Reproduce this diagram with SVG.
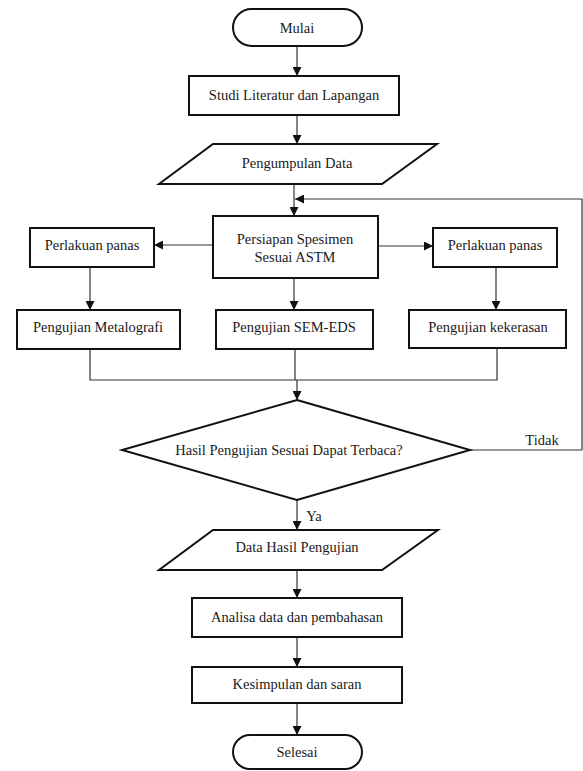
<svg xmlns="http://www.w3.org/2000/svg" width="583" height="771" viewBox="0 0 583 771">
<defs>
<marker id="ah" viewBox="0 0 10 10" refX="10" refY="5" markerWidth="9" markerHeight="9" markerUnits="userSpaceOnUse" orient="auto">
<path d="M0,0 L10,5 L0,10 z" fill="#111"/>
</marker>
</defs>
<style>
.n{fill:#fff;stroke:#111;stroke-width:2}
.t{font-family:'Liberation Serif','DejaVu Serif',serif;font-size:14.5px;fill:#1a1a1a;text-anchor:middle}
.c{fill:none;stroke:#333;stroke-width:1.2}
.a{marker-end:url(#ah)}
</style>
<rect width="583" height="771" fill="#fff"/>
<g id="connectors">
<line class="c a" x1="297" y1="46" x2="297" y2="76"/>
<line class="c a" x1="297" y1="115" x2="297" y2="144"/>
<line class="c a" x1="294" y1="184" x2="294" y2="216"/>
<polyline class="c a" points="582,450 582,199 295,199"/>
<line class="c a" x1="213" y1="245" x2="154" y2="245"/>
<line class="c a" x1="378" y1="246" x2="433" y2="246"/>
<line class="c a" x1="90" y1="267" x2="90" y2="310"/>
<line class="c a" x1="294" y1="278" x2="294" y2="310"/>
<line class="c a" x1="496" y1="267" x2="496" y2="310"/>
<polyline class="c" points="90,349 90,380 497,380 497,348"/>
<line class="c" x1="295" y1="349" x2="295" y2="380"/>
<line class="c a" x1="297" y1="380" x2="297" y2="400"/>
<line class="c" x1="470" y1="450" x2="582" y2="450"/>
<line class="c a" x1="297" y1="500" x2="297" y2="530"/>
<line class="c a" x1="297" y1="570" x2="297" y2="598"/>
<line class="c a" x1="297" y1="637" x2="297" y2="667"/>
<line class="c a" x1="297" y1="703" x2="297" y2="735"/>
<text class="t" x="542" y="445">Tidak</text>
<text class="t" x="314" y="521">Ya</text>
</g>
<g id="mulai"><rect class="n" x="233" y="9" width="129" height="37" rx="18.5"/><text class="t" x="297" y="33">Mulai</text></g>
<g id="studi"><rect class="n" x="189" y="76" width="210" height="39"/><text class="t" x="294" y="100">Studi Literatur dan Lapangan</text></g>
<g id="pengumpulan"><polygon class="n" points="213,144 437,144 382,184 159,184"/><text class="t" x="297" y="168">Pengumpulan Data</text></g>
<g id="persiapan"><rect class="n" x="213" y="216" width="165" height="62"/><text class="t" x="295" y="244">Persiapan Spesimen</text><text class="t" x="295" y="262">Sesuai ASTM</text></g>
<g id="panas-kiri"><rect class="n" x="30" y="228" width="124" height="39"/><text class="t" x="92" y="250">Perlakuan panas</text></g>
<g id="panas-kanan"><rect class="n" x="433" y="228" width="124" height="39"/><text class="t" x="495" y="250">Perlakuan panas</text></g>
<g id="metalografi"><rect class="n" x="17" y="310" width="163" height="39"/><text class="t" x="98" y="332">Pengujian Metalografi</text></g>
<g id="semeds"><rect class="n" x="216" y="310" width="157" height="39"/><text class="t" x="294" y="332">Pengujian SEM-EDS</text></g>
<g id="kekerasan"><rect class="n" x="409" y="310" width="157" height="38"/><text class="t" x="488" y="332">Pengujian kekerasan</text></g>
<g id="keputusan"><polygon class="n" points="297,400 470,450 297,500 122,450"/><text class="t" x="289" y="455">Hasil Pengujian Sesuai Dapat Terbaca?</text></g>
<g id="datahasil"><polygon class="n" points="213,530 438,530 382,570 159,570"/><text class="t" x="297" y="552">Data Hasil Pengujian</text></g>
<g id="analisa"><rect class="n" x="192" y="598" width="210" height="39"/><text class="t" x="297" y="622">Analisa data dan pembahasan</text></g>
<g id="kesimpulan"><rect class="n" x="192" y="667" width="210" height="36"/><text class="t" x="297" y="689">Kesimpulan dan saran</text></g>
<g id="selesai"><rect class="n" x="233" y="735" width="129" height="34" rx="17"/><text class="t" x="297" y="757">Selesai</text></g>
</svg>
